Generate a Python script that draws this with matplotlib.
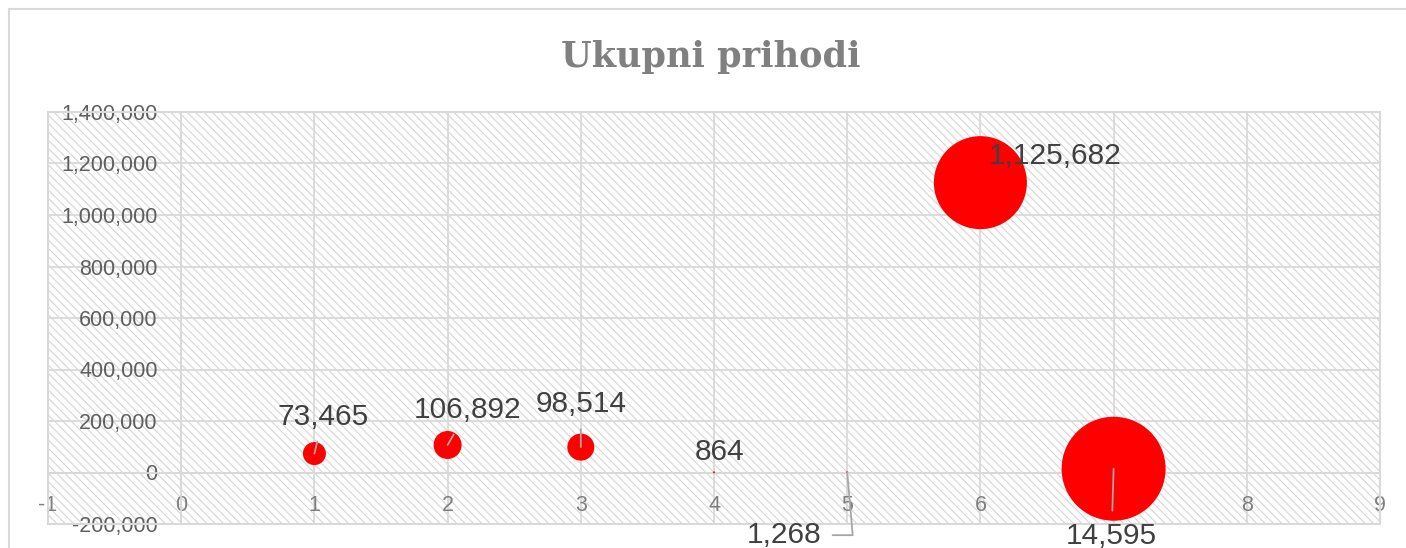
import matplotlib
matplotlib.use("Agg")
import matplotlib.pyplot as plt
from matplotlib.patches import Rectangle
from matplotlib.lines import Line2D
from matplotlib.ticker import FuncFormatter

# ---- data ----
title = "Ukupni prihodi"
x_vals = [1, 2, 3, 4, 5, 6, 7]
y_vals = [73465, 106892, 98514, 864, 1268, 1125682, 14595]
# relative bubble size (area units)
bubble_size = [529, 784, 729, 4, 4, 8649, 10816]
x_ticks = [-1, 0, 1, 2, 3, 4, 5, 6, 7, 8, 9]
y_ticks = [-200000, 0, 200000, 400000, 600000, 800000, 1000000, 1200000, 1400000]

# ---- label placement (pixel offsets from point, baseline) & leader flags ----
label_offsets = [(9, 29), (20, 26.5), (0, 35), (6, 12), (-63, -71), (75, 18.6), (-2, -75)]
leader = [True, True, True, False, True, False, True]

W, H, DPI = 1406, 548, 100
fig = plt.figure(figsize=(W / DPI, H / DPI), dpi=DPI)
fig.patch.set_facecolor("white")

# chart-area border (left & top visible)
fig.add_artist(Line2D([8.5 / W, 8.5 / W], [0, 1 - 8.5 / H], transform=fig.transFigure,
                      color="#d9d9d9", lw=1.5))
fig.add_artist(Line2D([8.5 / W, 1], [1 - 8.5 / H, 1 - 8.5 / H], transform=fig.transFigure,
                      color="#d9d9d9", lw=1.5))

left, right, top, bottom = 48, 1380, 112, 524
ax = fig.add_axes([left / W, 1 - bottom / H, (right - left) / W, (bottom - top) / H])
ax.set_xlim(-1, 9)
ax.set_ylim(-200000, 1400000)
ax.patch.set_visible(False)

plt.rcParams["hatch.linewidth"] = 0.8
bg = Rectangle((0, 0), 1, 1, transform=ax.transAxes, facecolor="white",
               edgecolor="#d6d6d6", hatch="\\\\\\\\", lw=0, zorder=0)
ax.add_patch(bg)
border = Rectangle((0, 0), 1, 1, transform=ax.transAxes, facecolor="none",
                   edgecolor="#d9d9d9", lw=1.5, zorder=1, clip_on=False)
ax.add_patch(border)

ax.set_xticks(x_ticks)
ax.set_yticks(y_ticks)
ax.grid(True, color="#d9d9d9", lw=1.3, zorder=1)
ax.set_axisbelow(True)

for s in ["top", "right"]:
    ax.spines[s].set_visible(False)
ax.spines["left"].set_position(("data", 0))
ax.spines["bottom"].set_position(("data", 0))
ax.spines["left"].set_color("#d9d9d9")
ax.spines["bottom"].set_color("#d9d9d9")
ax.spines["left"].set_linewidth(1.3)
ax.spines["bottom"].set_linewidth(1.3)

ax.yaxis.set_major_formatter(FuncFormatter(lambda v, p: f"{int(v):,}"))
ax.xaxis.set_major_formatter(FuncFormatter(lambda v, p: f"{int(v)}"))
ax.tick_params(axis="x", length=0, pad=16, labelcolor="#7f7f7f", labelsize=15.5)
ax.tick_params(axis="y", length=0, pad=17, labelcolor="#5f5f5f", labelsize=15.5)
for lab in ax.get_xticklabels() + ax.get_yticklabels():
    lab.set_fontfamily("Liberation Sans")

px2pt = 72 / DPI
sizes = [b * px2pt ** 2 for b in bubble_size]
ax.scatter(x_vals, y_vals, s=sizes, color="#ff0000", edgecolors="none", zorder=3, clip_on=False)

for xv, yv, (dx, dy), ld in zip(x_vals, y_vals, label_offsets, leader):
    kw = dict(xy=(xv, yv), xytext=(dx, dy), textcoords="offset pixels",
              ha="center", va="baseline", fontsize=21.5, family="Liberation Sans",
              color="#404040", zorder=5, annotation_clip=False)
    if ld:
        if dx < -30:
            kw["arrowprops"] = dict(arrowstyle="-", color="#a6a6a6", lw=1.3,
                                    shrinkA=6, shrinkB=0,
                                    connectionstyle="angle,angleA=0,angleB=95,rad=0")
        else:
            kw["arrowprops"] = dict(arrowstyle="-", color="#a6a6a6", lw=1.3,
                                    shrinkA=6, shrinkB=0)
    ax.annotate(f"{yv:,}", **kw)

fig.text(711 / W, 1 - 57 / H, title, ha="center", va="center", fontsize=25.3,
         fontweight="bold", family="DejaVu Serif", color="#808080")

fig.savefig("out.png", dpi=DPI)
